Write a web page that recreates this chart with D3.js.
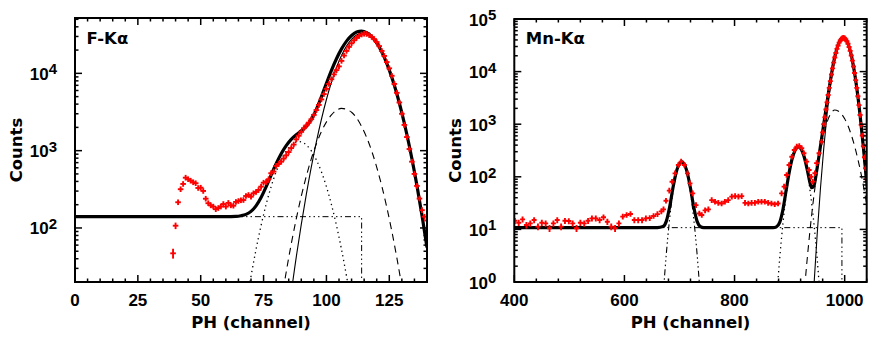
<!DOCTYPE html>
<html>
<head>
<meta charset="utf-8">
<script src="https://cdn.jsdelivr.net/npm/d3@7"></script>
<style>
  body { margin: 0; background: #fff; }
  .tick-label { font-family: "Liberation Sans", Arial, sans-serif; font-weight: bold; font-size: 17px; }
  .title { font-family: "DejaVu Sans", sans-serif; font-weight: bold; font-size: 16.5px; }
</style>
</head>
<body>
<svg id="chart" width="872" height="341"></svg>
<script>
// ---------- F-Kα panel ----------
const fkChannel = [39,40,41,42,43,44,45,46,47,48,49,50,51,52,53,54,55,56,57,58,59,60,61,62,63,64,65,66,67,68,69,70,
  71,72,73,74,75,76,77,78,79,80,81,82,83,84,85,86,87,88,89,90,91,92,93,94,95,96,97,98,99,100,
  101,102,103,104,105,106,107,108,109,110,111,112,113,114,115,116,117,118,119,120,
  121,122,123,124,125,126,127,128,129,130,131,132,133,134,135,136,137,138,139,140];
const fkCounts = [47,107,215,317,371,447,427,409,390,379,329,332,301,239,209,196,189,175,181,189,204,189,211,196,194,217,223,228,230,259,267,254,
  281,292,310,342,385,393,427,511,536,634,673,720,790,870,960,1080,1200,1400,1560,1750,1950,2120,2300,2550,2900,3350,3900,4600,5400,6300,
  7300,8400,9700,11000,12300,14500,17000,19500,22000,24500,26800,28800,30500,31800,32500,32300,31300,29700,27700,25400,
  22500,19500,16800,14000,11600,9300,7300,5600,4200,3000,2150,1500,1050,720,500,350,240,170,140,125];

// model: total (thick), main line (thin), second line (dashed), shoulder (dotted), constant (dash-dot)
const fkTotalCh = [0,60,64,66,68,70,72,74,76,78,80,82,84,86,88,90,92,94,96,98,100,102,104,106,108,110,112,114,116,118,120,122,124,126,128,130,132,134,136,138,140];
const fkTotal = [140,140,141,144,150,164,193,248,340,483,677,912,1164,1402,1608,1804,2064,2540,3422,4973,7423,10930,15470,20710,26110,30890,34180,35190,33580,29890,24710,18950,13490,8900,5440,3077,1617,786,353,146,56];
const fkMainCh = [84,88,92,96,100,104,108,112,114,116,120,124,128,132,136,140];
const fkMain = [4.7,42,272,1300,4590,11900,22500,31400,33000,32100,24100,13300,5400,1610,353,56];
const fkSecondCh = [82,86,90,94,98,102,106,110,114,118,122,126,130,134];
const fkSecond = [11,62,257,787,1760,2900,3520,3140,2050,990,350,91,17.4,2.5];
const fkShoulderCh = [66,70,74,78,82,86,89,92,96,100,104,108,112];
const fkShoulder = [3.7,23.7,107.5,342,760,1185,1310,1185,760,342,107.5,23.7,3.7];
const fkConstCh = [0,114,114];
const fkConst = [140,140,1];

// ---------- Mn-Kα panel ----------
const mnChannel = [401,408,415,422,429,436,443,450,457,464,471,478,485,492,499,506,513,520,527,534,541,548,555,562,569,576,583,590,597,604,
  611,618,625,632,639,646,653,660,667,
  671,675.5,681.5,686.5,692,698,703,709,714.5,719,724,730,736,740.5,746.5,752.5,758.5,764.5,770.5,776.5,782.5,788.5,
  795,801,807,813,819,825,831,837,843,849,855,861,867,873,879,
  885.5,890,894.5,899,904,908.5,913,917.5,922,926,931,935.5,939,942,946,949,953.5,958,
  960,962,964,966,968,970,972,974,976,978,980,982,984,986,988,990,992,994,996,998,1000,
  1002,1004,1006,1008,1010,1012,1014,1016,1018,1020,1022,1024,1026,1028,1030,1032,1034,1036,1038,1040];
const mnCounts = [14.6,13.4,15.5,12.1,13.0,15.1,11.3,13.4,13.0,10.5,13.0,15.1,11.3,14.6,14.4,13.0,10.5,13.4,13.0,14.6,16.2,16.2,15.1,17.0,14.0,11.3,10.5,13.0,17.5,18.8,
  19.6,15.1,15.1,15.1,16.2,16.5,18,19.5,22,
  24,35,54.5,80.7,116,168,194,168,116,75,48.5,29,20,18.8,23,24,36,33.6,32,31,33.6,36,
  42,43,42,43,32,31,32,32,33.6,33.6,33.6,32,31,30,31,
  48.5,65,108,168,241,324,374,385,348,280,194,135,100,81,117,182,280,465,
  700,1000,1350,1900,2600,3600,4900,6600,8800,11500,14800,18500,22600,27000,31400,35500,39000,41800,43400,43800,42900,
  40800,37700,33800,29400,24800,20300,16200,12500,9400,6900,4900,3400,2300,1500,970,610,380,235,145,90];

const mnTotalCh = [400,660,670,676,682,688,694,700,704,708,714,720,726,732,738,744,870,876,882,888,894,900,906,912,916,920,926,932,938,940,944,950,956,962,968,974,980,986,992,998,1004,1010,1016,1022,1028,1034,1040];
const mnTotal = [10.8,10.8,11.3,14.2,26.3,60.4,121,179,194,179,121,60.4,26.3,14.2,11.3,10.8,10.8,11.2,13.6,24.2,57.8,134,248,348,371,348,248,137,70,62,67,147.5,382,995,2629,6708,15041,27443,39673,44378,38044,24983,12558,4885,1475,363,80];
const mnEscapeCh = [670,676,682,688,694,700,704,708,714,720,726,732,738];
const mnEscape = [0.5,3.35,15.5,49.6,110,168,183,168,110,49.6,15.5,3.35,0.5];
const mnBetaCh = [876,882,888,894,900,906,912,916,920,926,932,938,944,950,956];
const mnBeta = [0.43,2.8,13.4,47,123,237,337,360,337,237,123,47,13.4,2.8,0.43];
const mnMainCh = [944,950,956,962,968,974,980,986,992,998,1004,1010,1016,1022,1028,1034,1040];
const mnMain = [0.79,7.9,60,347,1530,5150,13200,25600,38000,43000,37000,24260,12100,4620,1335,295,49.6];
const mnSecondCh = [922,928,934,940,946,952,958,964,970,976,982,988,994,1000,1006,1012,1018,1024,1030,1036,1040];
const mnSecond = [0.16,0.95,4.6,18.6,62,173.6,402,777,1248,1670,1860,1790,1577,1269,933,627,385,216,111,52,30];
const mnConstCh = [400,995,995];
const mnConst = [10.8,10.8,0.5];

const fkXTicks = [0,25,50,75,100,125];
const mnXTicks = [400,600,800,1000];

const svg = d3.select("#chart");

const DASHDOT = "6,3,1.5,3,1.5,3,1.5,3";

function drawPanel(p) {
  const x = d3.scaleLinear().domain(p.xDomain).range([p.left, p.right]);
  const y = d3.scaleLog().domain(p.yDomain).range([p.bottom, p.top]);
  const g = svg.append("g");

  g.append("clipPath").attr("id", p.id).append("rect")
    .attr("x", p.left).attr("y", p.top)
    .attr("width", p.right - p.left).attr("height", p.bottom - p.top);
  const plot = g.append("g").attr("clip-path", `url(#${p.id})`);

  const smooth = d3.line().x(d => x(d[0])).y(d => y(d[1])).curve(d3.curveMonotoneX);
  const straight = d3.line().x(d => x(d[0])).y(d => y(d[1]));

  p.curves.forEach(c => {
    plot.append("path")
      .datum(d3.zip(c.ch, c.counts))
      .attr("fill", "none")
      .attr("stroke", "#000")
      .attr("stroke-width", c.width)
      .attr("stroke-dasharray", c.dash || null)
      .attr("d", c.step ? straight : smooth);
  });

  // data crosses
  const pts = d3.zip(p.dataCh, p.dataCounts);
  const cross = plot.append("g").attr("stroke", "#ff0000").attr("stroke-width", 1.9);
  cross.selectAll("line.h").data(pts).join("line")
    .attr("class", "h")
    .attr("x1", d => x(d[0]) - p.halfW).attr("x2", d => x(d[0]) + p.halfW)
    .attr("y1", d => y(d[1])).attr("y2", d => y(d[1]));
  cross.selectAll("line.v").data(pts).join("line")
    .attr("class", "v")
    .attr("x1", d => x(d[0])).attr("x2", d => x(d[0]))
    .attr("y1", d => Math.min(y(d[1] + Math.sqrt(d[1]) * p.errScale), y(d[1]) - p.minErr))
    .attr("y2", d => Math.max(y(Math.max(d[1] - Math.sqrt(d[1]) * p.errScale, 0.01)), y(d[1]) + p.minErr));

  // frame
  g.append("rect")
    .attr("x", p.left).attr("y", p.top)
    .attr("width", p.right - p.left).attr("height", p.bottom - p.top)
    .attr("fill", "none").attr("stroke", "#000").attr("stroke-width", 2);

  const ticks = g.append("g").attr("stroke", "#000").attr("stroke-width", 1.5);
  const xMinor = d3.range(p.xDomain[0], p.xDomain[1] + 0.001, p.xMinorStep);
  xMinor.forEach(v => {
    const len = p.xTicks.includes(v) ? 7 : 3.5;
    const xx = x(v);
    ticks.append("line").attr("x1", xx).attr("x2", xx).attr("y1", p.bottom).attr("y2", p.bottom - len);
    ticks.append("line").attr("x1", xx).attr("x2", xx).attr("y1", p.top).attr("y2", p.top + len);
  });

  const [y0, y1] = p.yDomain;
  for (let e = Math.floor(Math.log10(y0)); e <= Math.ceil(Math.log10(y1)); e++) {
    for (let m = 1; m <= 9; m++) {
      const v = m * Math.pow(10, e);
      if (v < y0 * 0.999 || v > y1 * 1.001) continue;
      const len = m === 1 ? 7 : 3.5;
      const yy = y(v);
      ticks.append("line").attr("x1", p.left).attr("x2", p.left + len).attr("y1", yy).attr("y2", yy);
      ticks.append("line").attr("x1", p.right).attr("x2", p.right - len).attr("y1", yy).attr("y2", yy);
    }
    const dec = Math.pow(10, e);
    if (dec >= y0 * 0.999 && dec <= y1 * 1.001) {
      const t = g.append("text").attr("class", "tick-label")
        .attr("x", p.left - 18).attr("y", y(dec) + 6.5).attr("text-anchor", "end");
      t.append("tspan").text("10");
      t.append("tspan").attr("dy", -5.5).attr("font-size", 15).text(e);
    }
  }

  p.xTicks.forEach(v => {
    g.append("text").attr("class", "tick-label")
      .attr("x", x(v)).attr("y", p.bottom + 23.5).attr("text-anchor", "middle").text(v);
  });

  g.append("text").attr("class", "title")
    .attr("x", (p.left + p.right) / 2).attr("y", 328).attr("text-anchor", "middle")
    .text("PH (channel)");
  g.append("text").attr("class", "title")
    .attr("transform", `translate(${p.left - 53},${(p.top + p.bottom) / 2}) rotate(-90)`)
    .attr("text-anchor", "middle").text("Counts");
  g.append("text").attr("class", "title")
    .attr("x", p.left + 11.5).attr("y", 43.5).text(p.label);
}

drawPanel({
  id: "clip-fk", label: "F-Kα",
  left: 75, right: 427, top: 18, bottom: 282,
  xDomain: [0, 140], yDomain: [20, 52000],
  xTicks: fkXTicks, xMinorStep: 5,
  dataCh: fkChannel, dataCounts: fkCounts, halfW: 2.8, errScale: 1, minErr: 2.8,
  curves: [
    { ch: fkConstCh, counts: fkConst, width: 1, dash: DASHDOT, step: true },
    { ch: fkShoulderCh, counts: fkShoulder, width: 1.3, dash: "1.3,3.5" },
    { ch: fkSecondCh, counts: fkSecond, width: 1.1, dash: "7,5" },
    { ch: fkMainCh, counts: fkMain, width: 1.1 },
    { ch: fkTotalCh, counts: fkTotal, width: 3.2 }
  ]
});

drawPanel({
  id: "clip-mn", label: "Mn-Kα",
  left: 514.3, right: 866.7, top: 19, bottom: 282,
  xDomain: [400, 1040], yDomain: [1, 100000],
  xTicks: mnXTicks, xMinorStep: 40,
  dataCh: mnChannel, dataCounts: mnCounts, halfW: 2.5, errScale: 0.5, minErr: 2.8,
  curves: [
    { ch: mnConstCh, counts: mnConst, width: 1, dash: DASHDOT, step: true },
    { ch: mnEscapeCh, counts: mnEscape, width: 1.1, dash: DASHDOT },
    { ch: mnBetaCh, counts: mnBeta, width: 1.3, dash: "1.3,3.5" },
    { ch: mnSecondCh, counts: mnSecond, width: 1.1, dash: "7,5" },
    { ch: mnMainCh, counts: mnMain, width: 1.1 },
    { ch: mnTotalCh, counts: mnTotal, width: 3.2 }
  ]
});
</script>
</body>
</html>
